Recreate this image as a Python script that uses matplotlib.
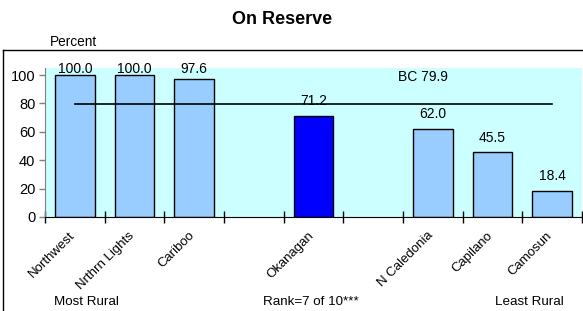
import numpy as np
import matplotlib.pyplot as plt
from matplotlib.lines import Line2D
from matplotlib.transforms import ScaledTranslation

# regions ordered most rural -> least rural, blank slots have no data
regions = ['Northwest', 'Nrthrn Lights', 'Cariboo', '', 'Okanagan', '', 'N Caledonia', 'Capilano', 'Camosun']
values = [100.0, 100.0, 97.6, np.nan, 71.2, np.nan, 62.0, 45.5, 18.4]
highlight = 'Okanagan'
bc_value = 79.9

plt.rcParams['font.family'] = ['Liberation Sans', 'DejaVu Sans']

fig = plt.figure(figsize=(5.83, 3.11), dpi=100)
ax = fig.add_axes([45 / 583, 94 / 311, 537 / 583, 149 / 311])
ax.set_facecolor('#CCFFFF')

x = np.arange(len(regions))
colors = ['#0000FF' if r == highlight else '#99CCFF' for r in regions]
ax.bar(x, values, width=0.67, color=colors, edgecolor='black', linewidth=1, zorder=2)

for xi, v in zip(x, values):
    if np.isnan(v):
        continue
    ax.text(xi, min(v + 7.5, 101.5), f'{v:.1f}', ha='center', va='baseline', fontsize=10, zorder=4)

# BC average line across the bar centres
ax.plot([x[0], x[-1]], [bc_value, bc_value], color='black', linewidth=1.2, zorder=3)
ax.text(5.83, 98.5, f'BC {bc_value}', ha='center', va='center', fontsize=10)

ax.set_xlim(-0.5, len(regions) - 0.5)
ax.set_ylim(0, 105)
ax.set_yticks([0, 20, 40, 60, 80, 100])
ax.tick_params(axis='y', colors='#808080', labelcolor='black', labelsize=10.5, length=4, width=1, pad=3)

ax.set_xticks(np.arange(len(regions) + 1) - 0.5)
ax.set_xticklabels([])
ax.tick_params(axis='x', which='major', direction='inout', length=8, width=1, color='black')
ax.set_xticks(x, minor=True)
ax.set_xticklabels(regions, minor=True, rotation=45, ha='right', rotation_mode='anchor', fontsize=9.5)
ax.tick_params(axis='x', which='minor', length=0, pad=9)
# nudge the slanted names a little to the left, like the original
for lab in ax.get_xticklabels(minor=True):
    lab.set_transform(lab.get_transform() + ScaledTranslation(-6 / 100, 0, fig.dpi_scale_trans))

for s in ['top', 'right']:
    ax.spines[s].set_visible(False)
ax.spines['left'].set_color('#808080')
ax.spines['bottom'].set_color('black')
ax.spines['bottom'].set_zorder(5)

# outer chart frame (clipped by the figure edge)
fig.add_artist(Line2D([3 / 583, 3 / 583], [0, 1 - 49.5 / 311], color='black', linewidth=1))
fig.add_artist(Line2D([3 / 583, 1], [1 - 49.5 / 311, 1 - 49.5 / 311], color='black', linewidth=1))

fig.text(282 / 583, 1 - 19 / 311, 'On Reserve', ha='center', va='center', fontsize=13, fontweight='bold')
fig.text(73 / 583, 1 - 41.5 / 311, 'Percent', ha='center', va='center', fontsize=9.8)
fig.text(86 / 583, 1 - 302 / 311, 'Most Rural', ha='center', va='center', fontsize=9.6)
fig.text(311 / 583, 1 - 302 / 311, 'Rank=7 of 10***', ha='center', va='center', fontsize=9.6)
fig.text(529 / 583, 1 - 302 / 311, 'Least Rural', ha='center', va='center', fontsize=9.6)

fig.savefig('out.png', dpi=100)
